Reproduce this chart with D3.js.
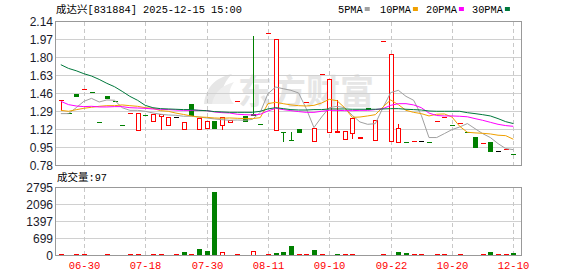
<!DOCTYPE html>
<html><head><meta charset="utf-8">
<script src="https://cdn.jsdelivr.net/npm/d3@7"></script>
<style>body{margin:0;background:#fff}svg{display:block}</style>
</head><body>
<svg id="c" width="578" height="276"></svg>
<script>
// ---------------- data ----------------
const title = "成达兴";
const code = "[831884] 2025-12-15 15:00";
const dates = ["06-25","06-26","06-27","06-30","07-02","07-04","07-08","07-09","07-11","07-15",
  "07-16","07-18","07-21","07-22","07-23","07-24","07-25","07-28","07-29","07-30",
  "07-31","08-01","08-04","08-05","08-06","08-07","08-08","08-11","08-12","08-13",
  "08-14","08-15","08-19","08-26","09-03","09-10","09-11","09-12","09-15","09-16",
  "09-17","09-18","09-19","09-22","09-23","09-24","09-25","09-26","09-29","09-30",
  "10-13","10-20","10-24","10-30","11-06","11-13","11-20","11-27","12-03","12-10"];
const prevClose = 1.33;
const open  = [1.40,1.28,1.46,1.50,1.47,1.195,1.433,1.393,1.166,1.28,
  1.12,1.26,1.204,1.247,1.163,1.242,1.129,1.357,1.129,1.138,
  1.198,1.166,1.195,1.393,1.245,1.27,1.176,2.027,1.119,1.10,
  1.018,1.122,1.377,1.016,1.64,1.10,1.098,1.034,1.091,1.043,
  1.327,1.025,1.958,1.016,1.006,1.006,1.016,1.016,1.006,1.198,
  1.242,1.166,1.185,1.10,1.047,0.997,1.00,0.915,0.934,0.893];
const high  = [1.40,1.28,1.46,1.50,1.47,1.195,1.433,1.393,1.166,1.28,
  1.28,1.26,1.266,1.27,1.242,1.242,1.195,1.357,1.229,1.198,
  1.198,1.242,1.207,1.393,1.245,2.00,1.176,2.027,1.977,1.10,
  1.10,1.122,1.377,1.138,1.64,1.60,1.395,1.103,1.232,1.045,
  1.327,1.207,1.958,1.829,1.176,1.006,1.016,1.016,1.006,1.198,
  1.242,1.166,1.185,1.10,1.047,0.997,1.00,0.915,0.934,0.893];
const low   = [1.30,1.28,1.44,1.50,1.47,1.195,1.417,1.393,1.166,1.28,
  1.12,1.26,1.204,1.125,1.163,1.242,1.129,1.26,1.129,1.138,
  1.134,1.125,1.195,1.393,1.201,1.26,1.176,2.027,1.119,1.012,
  1.018,1.10,1.377,1.016,1.64,1.10,1.098,1.034,1.044,1.043,
  1.311,1.025,1.958,1.016,1.006,1.006,1.016,1.016,1.006,1.198,
  1.242,1.166,1.185,1.10,0.952,0.997,0.915,0.915,0.934,0.893];
const close = [1.40,1.28,1.44,1.50,1.47,1.195,1.417,1.393,1.166,1.28,
  1.28,1.26,1.266,1.27,1.242,1.242,1.195,1.26,1.229,1.198,
  1.134,1.242,1.207,1.393,1.201,1.26,1.176,2.027,1.977,1.10,
  1.018,1.10,1.377,1.138,1.64,1.60,1.102,1.103,1.232,1.045,
  1.311,1.207,1.958,1.829,1.131,1.006,1.016,1.016,1.006,1.198,
  1.242,1.166,1.185,1.10,0.952,0.997,0.915,0.915,0.934,0.893];
const volume = [35,30,35,35,30,30,35,30,30,35,
  35,30,35,35,30,35,150,40,250,165,
  2620,85,40,40,40,125,40,40,110,150,
  370,35,35,230,35,40,80,35,35,35,
  35,35,35,35,150,110,35,35,35,35,
  35,35,35,35,35,35,160,35,35,97];
const volUp = [1,0,1,1,0,0,1,0,0,1, 1,0,1,1,0,1,0,1,0,0, 0,1,0,1,0,1,0,1,0,0,
  0,1,1,0,1,0,0,1,1,0, 0,0,1,0,0,0,1,1,0,1, 1,0,1,0,0,1,0,1,1,0];
const ma5 = [1.270,1.270,1.326,1.386,1.414,1.380,1.399,1.396,1.326,1.301,
  1.301,1.292,1.276,1.264,1.257,1.254,1.245,1.245,1.238,1.229,
  1.220,1.213,1.207,1.210,1.207,1.216,1.282,1.458,1.521,1.505,
  1.490,1.465,1.317,1.138,1.238,1.326,1.339,1.326,1.254,1.191,
  1.169,1.175,1.326,1.468,1.490,1.433,1.396,1.254,1.044,1.044,
  1.081,1.119,1.144,1.176,1.128,1.081,1.044,0.987,0.940,0.930];
const ma10 = [1.301,1.292,1.307,1.320,1.330,1.339,1.345,1.345,1.352,1.345,
  1.339,1.326,1.320,1.298,1.292,1.275,1.262,1.248,1.238,1.235,
  1.229,1.226,1.229,1.226,1.223,1.223,1.232,1.364,1.377,1.364,
  1.352,1.345,1.342,1.348,1.370,1.405,1.392,1.326,1.235,1.238,
  1.248,1.260,1.333,1.399,1.355,1.301,1.282,1.270,1.248,1.264,
  1.267,1.238,1.150,1.094,1.088,1.084,1.078,1.066,1.062,1.028];
const ma20 = [1.386,1.355,1.342,1.336,1.339,1.333,1.333,1.336,1.336,1.326,
  1.323,1.320,1.314,1.311,1.308,1.304,1.301,1.301,1.301,1.298,
  1.286,1.279,1.276,1.264,1.260,1.257,1.264,1.295,1.320,1.308,
  1.298,1.289,1.282,1.282,1.292,1.301,1.301,1.298,1.298,1.301,
  1.301,1.308,1.317,1.348,1.364,1.364,1.352,1.326,1.275,1.252,
  1.248,1.248,1.245,1.240,1.223,1.207,1.188,1.169,1.157,1.150];
const ma30 = [1.732,1.697,1.675,1.647,1.625,1.593,1.556,1.524,1.480,1.433,
  1.396,1.348,1.326,1.317,1.314,1.311,1.308,1.308,1.301,1.298,
  1.289,1.286,1.282,1.282,1.282,1.282,1.292,1.314,1.326,1.317,
  1.308,1.304,1.304,1.308,1.308,1.314,1.314,1.314,1.311,1.311,
  1.311,1.311,1.314,1.317,1.317,1.311,1.308,1.304,1.295,1.292,
  1.292,1.292,1.292,1.279,1.270,1.260,1.248,1.223,1.194,1.176];
const maNames = ["5PMA","10PMA","20PMA","30PMA"];
const priceTicks = [0.78,0.95,1.12,1.29,1.46,1.63,1.80,1.97,2.14];
const volTicks = [0,699,1397,2096,2795];
const tickDates = ["06-30","07-18","07-30","08-11","09-10","09-22","10-20","12-10"];
const lastVolume = 97;

// ---------------- drawing ----------------
const RED="#ff0000", GREEN="#008000", BLACK="#000000";
const maColors = ["#a0a0a0","#f0a000","#ff00ff","#00783c"];
const svg = d3.select("#c");
const L=55.5, R=521.5, PT=21.5, PB=165.5, VT=187.5, VB=255.5;

const x = d3.scaleBand().domain(dates).range([57,517.2]).padding(0);
const cx = d => Math.round(x(d) + x.bandwidth()/2);
const y = d3.scaleLinear().domain([0.78,2.14]).range([PB,PT]);
const yv = d3.scaleLinear().domain([0,2795]).range([VB,VT]);

// watermark
const wm = svg.append("g");
wm.append("path").attr("d","M204,104 C206,88 214,78 232,74 C222,84 220,94 226,104 Z").attr("fill","#e6e6e6");
wm.append("path").attr("d","M212,104 C214,94 220,86 234,82 C228,90 228,98 234,104 Z").attr("fill","#eeeeee");
wm.append("text").attr("x",238).attr("y",104).attr("font-family","Noto Sans CJK SC")
  .attr("font-weight",700).attr("font-size",34).attr("fill","#e6e6e6").text("东方财富");

// grid
const grid = svg.append("g").attr("shape-rendering","crispEdges");
priceTicks.slice(1,-1).forEach(t=>{
  grid.append("line").attr("x1",L).attr("x2",R).attr("y1",Math.round(y(t)-0.5)+0.5).attr("y2",Math.round(y(t)-0.5)+0.5)
    .attr("stroke","#d0d0d0");
});
volTicks.slice(1,-1).forEach(t=>{
  grid.append("line").attr("x1",L).attr("x2",R).attr("y1",Math.round(yv(t)-0.5)+0.5).attr("y2",Math.round(yv(t)-0.5)+0.5)
    .attr("stroke","#d0d0d0");
});
tickDates.forEach(d=>{
  const xx = cx(d)+0.5;
  [[PT,PB],[VT,VB]].forEach(([a,b])=>{
    grid.append("line").attr("x1",xx).attr("x2",xx).attr("y1",a).attr("y2",b)
      .attr("stroke","#c8c8c8").attr("stroke-dasharray","4,3");
  });
});

// candles
function dir(i){
  const c=close[i], o=open[i], pc = i>0?close[i-1]:prevClose;
  if (c>o) return 1; if (c<o) return -1;
  if (c>pc) return 1; if (c<pc) return -1; return 0;
}
const gC = svg.append("g").attr("shape-rendering","crispEdges");
dates.forEach((d,i)=>{
  const c = cx(d), k = dir(i);
  const col = k>0?RED:(k<0?GREEN:BLACK);
  const yH=Math.round(y(high[i])), yL=Math.round(y(low[i]));
  const yO=Math.round(y(open[i])), yCl=Math.round(y(close[i]));
  if (yL>yH) gC.append("line").attr("x1",c+0.5).attr("x2",c+0.5).attr("y1",yH).attr("y2",yL+1).attr("stroke",col);
  const top=Math.min(yO,yCl), bot=Math.max(yO,yCl);
  if (bot-top<1) {
    gC.append("line").attr("x1",c-2).attr("x2",c+3).attr("y1",top+0.5).attr("y2",top+0.5).attr("stroke",col);
  } else if (k>0 && close[i]>open[i]) {
    gC.append("rect").attr("x",c-1.5).attr("y",top+0.5).attr("width",4).attr("height",bot-top)
      .attr("fill","#fff").attr("stroke",col);
  } else {
    gC.append("rect").attr("x",c-2).attr("y",top).attr("width",5).attr("height",bot-top+1).attr("fill",col);
  }
});

// moving averages
const line = d3.line().x((v,i)=>x(dates[i])+x.bandwidth()/2).y(v=>y(v));
[ma5,ma10,ma20,ma30].forEach((arr,j)=>{
  svg.append("path").attr("d",line(arr)).attr("fill","none").attr("stroke",maColors[j]).attr("stroke-width",1);
});

// volume
const gV = svg.append("g").attr("shape-rendering","crispEdges");
dates.forEach((d,i)=>{
  const c = cx(d);
  const t = Math.round(yv(volume[i]));
  if (volUp[i]) {
    gV.append("rect").attr("x",c-1.5).attr("y",t-0.5).attr("width",4).attr("height",Math.max(1,VB-t)).attr("fill","#fff").attr("stroke",RED);
  } else {
    gV.append("rect").attr("x",c-2).attr("y",t).attr("width",5).attr("height",VB-t).attr("fill",GREEN);
  }
});

// frames
const fr = svg.append("g").attr("shape-rendering","crispEdges").attr("fill","none").attr("stroke","#999");
fr.append("rect").attr("x",L).attr("y",PT).attr("width",R-L).attr("height",PB-PT);
fr.append("rect").attr("x",L).attr("y",VT).attr("width",R-L).attr("height",VB-VT);

// axis labels
const lab = svg.append("g").attr("font-family","Liberation Sans, Arial, sans-serif").attr("font-size",12).attr("fill","#1a1a2a").attr("text-anchor","end");
priceTicks.forEach(t=>lab.append("text").attr("x",53).attr("y",y(t)+4.5).text(t.toFixed(2)));
volTicks.forEach(t=>lab.append("text").attr("x",53).attr("y",yv(t)+4.5).text(t));
const xl = svg.append("g").attr("font-family","Liberation Mono, monospace").attr("font-size",10.5).attr("fill",RED).attr("text-anchor","middle");
tickDates.forEach(d=>xl.append("text").attr("x",cx(d)+0.5).attr("y",269).text(d));

// title
const tt = svg.append("text").attr("x",56).attr("y",13).attr("fill","#000");
tt.append("tspan").attr("font-family","Noto Sans CJK SC").attr("font-size",10.5).text(title);
tt.append("tspan").attr("font-family","Liberation Mono, monospace").attr("font-size",10.3).text(code);

const vt = svg.append("text").attr("x",57).attr("y",181).attr("fill","#000");
vt.append("tspan").attr("font-family","Noto Sans CJK SC").attr("font-size",10.5).text("成交量");
vt.append("tspan").attr("font-family","Liberation Mono, monospace").attr("font-size",10.3).text(":"+lastVolume);

// legend
const lg = svg.append("g").attr("font-family","Liberation Mono, monospace").attr("font-size",10.3).attr("fill","#000");
const legX = [338,380,426,472];
maNames.forEach((n,j)=>{
  const t = lg.append("text").attr("x",legX[j]).attr("y",12.5).text(n);
  const w = t.node().getComputedTextLength();
  lg.append("rect").attr("x",legX[j]+w+2).attr("y",7).attr("width",5).attr("height",4).attr("fill",maColors[j]);
});
</script>
</body></html>
